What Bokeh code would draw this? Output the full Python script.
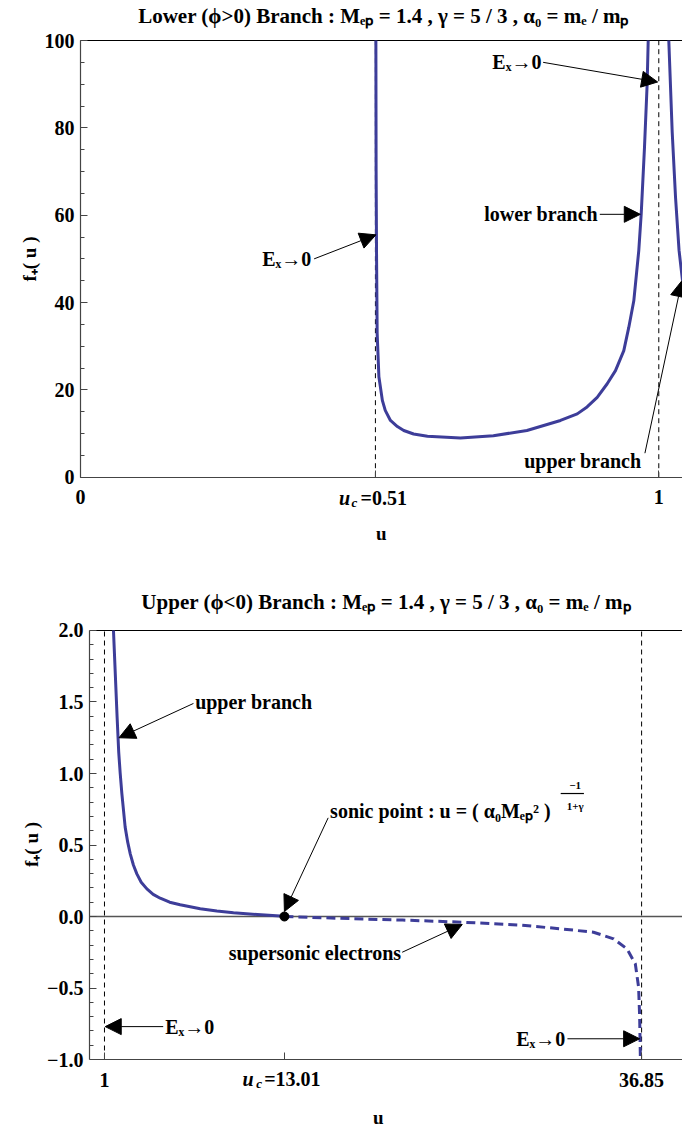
from bokeh.plotting import figure
from bokeh.models import Label, Arrow, NormalHead, FixedTicker
from bokeh.embed import file_html
from bokeh.resources import INLINE

FONT = "Liberation Serif"
CURVE = "#3d3d99"

# ---------------- data: top panel (lower, phi>0 branch) ----------------
top_title = "Lower (ϕ>0) Branch : Mₑₚ = 1.4 , γ = 5 / 3 , α₀ = mₑ / mₚ"
top_uc = 0.51
top_asym = 1.0
top_lower_u = [0.5108, 0.5112, 0.5120, 0.5130, 0.5160, 0.5220, 0.527, 0.536, 0.548, 0.559,
               0.576, 0.600, 0.657, 0.714, 0.772, 0.830, 0.859, 0.876, 0.8935, 0.9108,
               0.9251, 0.9395, 0.9481, 0.9568, 0.9654, 0.9696, 0.9753, 0.9799, 0.9817]
top_lower_f = [100, 70, 50, 33, 23, 17.6, 15.3, 13.0, 11.6, 10.7,
               9.9, 9.4, 9.0, 9.5, 10.7, 13.0, 14.5, 16.1, 18.3, 21.4,
               24.4, 29.0, 34.3, 40.4, 51.9, 60.3, 75.6, 90.1, 100]
top_upper_u = [1.0173, 1.0232, 1.029, 1.035, 1.041]
top_upper_f = [100, 79, 64, 52, 45]
top_xticks = [0, 0.51, 1]
top_yticks = [0, 20, 40, 60, 80, 100]
top_yminor = [5, 10, 15, 25, 30, 35, 45, 50, 55, 65, 70, 75, 85, 90, 95]
top_xlim = (0, 1.041)
top_ylim = (0, 100)

# ---------------- data: bottom panel (upper, phi<0 branch) ----------------
bot_title = "Upper (ϕ<0) Branch : Mₑₚ = 1.4 , γ = 5 / 3 , α₀ = mₑ / mₚ"
bot_uc = 13.01
bot_asym = [1.0, 36.85]
bot_upper_u = [1.60, 1.72, 1.84, 1.95, 2.05, 2.16, 2.38, 2.55, 2.72, 2.93, 3.16, 3.45,
               3.83, 4.25, 4.72, 5.35, 6.05, 7.39, 8.50, 9.61, 11.2, 12.73, 13.01]
bot_upper_f = [2.0, 1.7, 1.4, 1.15, 1.0, 0.86, 0.625, 0.52, 0.438, 0.36, 0.298, 0.24,
               0.193, 0.155, 0.128, 0.10, 0.082, 0.054, 0.038, 0.026, 0.014, 0.004, 0.0]
bot_super_u = [13.01, 17.4, 20.9, 24.86, 28.8, 31.42, 33.64, 34.98, 35.87, 36.43, 36.65, 36.72, 36.77]
bot_super_f = [0.0, -0.015, -0.025, -0.04, -0.06, -0.086, -0.11, -0.156, -0.226, -0.331, -0.494, -0.70, -1.0]
bot_xticks = [1, 13.01, 36.85]
bot_yticks = [-1, -0.5, 0, 0.5, 1, 1.5, 2]
bot_yminor = [-0.9, -0.8, -0.7, -0.6, -0.4, -0.3, -0.2, -0.1, 0.1, 0.2, 0.3, 0.4,
              0.6, 0.7, 0.8, 0.9, 1.1, 1.2, 1.3, 1.4, 1.6, 1.7, 1.8, 1.9]
bot_xlim = (0, 39.58)
bot_ylim = (-1, 2)

# annotations: (text, x, y, align, x_tail, y_tail, x_tip, y_tip)
top_notes = [
    ("Eₓ→0", 0.399, 50.0, "right", 0.404, 50.0, 0.511, 55.5),
    ("Eₓ→0", 0.797, 95.0, "right", 0.800, 95.0, 0.998, 90.5),
    ("lower branch", 0.895, 60.2, "right", 0.898, 60.2, 0.968, 60.2),
    ("upper branch", 0.970, 3.8, "right", 0.976, 5.5, 1.040, 45.0),
]
bot_notes = [
    ("upper branch", 7.05, 1.50, "left", 6.94, 1.49, 1.97, 1.25),
    ("supersonic electrons", 20.8, -0.257, "right", 20.87, -0.25, 24.88, -0.056),
    ("Eₓ→0", 5.05, -0.77, "left", 4.92, -0.77, 1.05, -0.77),
    ("Eₓ→0", 31.76, -0.855, "right", 31.9, -0.855, 36.72, -0.855),
]
sonic_text = "sonic point : u = ( α₀Mₑₚ² )"
sonic_pos = (16.06, 0.74)
sonic_arrow = (15.93, 0.69, 13.01, 0.035)


def make_fig(h, xr, yr, bl, xbounds, ybounds, xloc, yloc):
    p = figure(width=682, height=h, x_range=xr, y_range=yr, output_backend="svg",
               toolbar_location=None, min_border_left=bl, min_border_right=0,
               min_border_top=0, min_border_bottom=0)
    p.grid.visible = False
    p.outline_line_color = None
    p.background_fill_color = "white"
    p.border_fill_color = "white"
    p.xaxis.fixed_location = xloc
    p.xaxis.bounds = xbounds
    if yloc is not None:
        p.yaxis.fixed_location = yloc
    p.yaxis.bounds = ybounds
    for ax in (p.xaxis[0], p.yaxis[0]):
        ax.axis_line_color = "#444444"
        ax.axis_line_width = 1.2
        ax.major_tick_in = 7
        ax.major_tick_out = 0
        ax.minor_tick_in = 4
        ax.minor_tick_out = 0
        ax.major_tick_line_color = "#444444"
        ax.minor_tick_line_color = "#444444"
        ax.major_label_text_font = FONT
        ax.major_label_text_font_style = "bold"
        ax.major_label_text_font_size = "20px"
        ax.major_label_text_color = "black"
        ax.axis_label_text_font = FONT
        ax.axis_label_text_font_style = "bold"
        ax.axis_label_text_font_size = "19px"
        ax.axis_label_text_color = "black"
    p.xaxis.minor_tick_line_color = None
    p.yaxis.axis_label = "f₊( u )"
    p.yaxis.axis_label_standoff = 2
    p.yaxis.major_label_standoff = 6
    p.xaxis.major_label_standoff = 9
    return p


def lbl(p, x, y, text, align="left", size="20px", style="bold"):
    p.add_layout(Label(x=x, y=y, text=text, text_align=align, text_baseline="middle",
                       text_font=FONT, text_font_style=style, text_font_size=size,
                       text_color="black"))


def arrow(p, x0, y0, x1, y1):
    p.add_layout(Arrow(x_start=x0, y_start=y0, x_end=x1, y_end=y1, line_width=1,
                       line_color="black",
                       end=NormalHead(size=16, fill_color="black", line_color="black")))


# ---------------- top figure ----------------
p1 = make_fig(560, (-0.1383, top_xlim[1]), (-19.07, 109.16), 0,
              top_xlim, top_ylim, top_ylim[0], top_xlim[0])
p1.xaxis.ticker = FixedTicker(ticks=top_xticks)
p1.xaxis.major_label_overrides = {0: "0", 0.51: " ", 1: "1"}
p1.yaxis.ticker = FixedTicker(ticks=top_yticks, minor_ticks=top_yminor)
p1.segment(x0=[top_xlim[0]], y0=[top_ylim[1]], x1=[top_xlim[1]], y1=[top_ylim[1]],
           line_color="black", line_width=1.2)
p1.segment(x0=[top_uc, top_asym], y0=[top_ylim[0]] * 2, x1=[top_uc, top_asym],
           y1=[top_ylim[1]] * 2, line_color="black", line_width=1, line_dash="5 4")
p1.line(top_lower_u, top_lower_f, line_color=CURVE, line_width=3, line_join="round")
p1.line(top_upper_u, top_upper_f, line_color=CURVE, line_width=3, line_join="round")
for t, x, y, al, x0, y0, x1, y1 in top_notes:
    lbl(p1, x, y, t, al)
    arrow(p1, x0, y0, x1, y1)
lbl(p1, 0.524, 105.6, top_title, "center", "21px")
lbl(p1, 0.4565, -4.65, "u", "center", "20px", "bold italic")
lbl(p1, 0.4738, -5.8, "c", "center", "13px", "bold italic")
lbl(p1, 0.4842, -4.65, "=0.51", "left", "20px")
lbl(p1, 0.52, -12.9, "u", "center", "19px")

# ---------------- bottom figure ----------------
p2 = make_fig(568, (bot_xlim[0], bot_xlim[1]), (-1.4825, 2.4895), 89,
              bot_xlim, bot_ylim, bot_ylim[0], None)
p2.xaxis.ticker = FixedTicker(ticks=bot_xticks)
p2.xaxis.major_label_overrides = {1: "1", 13.01: " ", 36.85: "36.85"}
p2.yaxis.ticker = FixedTicker(ticks=bot_yticks, minor_ticks=bot_yminor)
p2.yaxis.major_label_overrides = {-1: "−1.0", -0.5: "−0.5", 0: "0.0", 0.5: "0.5",
                                  1: "1.0", 1.5: "1.5", 2: "2.0"}
p2.segment(x0=[bot_xlim[0]], y0=[bot_ylim[1]], x1=[bot_xlim[1]], y1=[bot_ylim[1]],
           line_color="black", line_width=1.2)
p2.segment(x0=[bot_xlim[0]], y0=[0], x1=[bot_xlim[1]], y1=[0],
           line_color="#555555", line_width=1.5)
p2.segment(x0=bot_asym, y0=[bot_ylim[0]] * 2, x1=bot_asym, y1=[bot_ylim[1]] * 2,
           line_color="black", line_width=1, line_dash="5 4")
p2.line(bot_upper_u, bot_upper_f, line_color=CURVE, line_width=3, line_join="round")
p2.line(bot_super_u, bot_super_f, line_color=CURVE, line_width=3, line_dash="9 5")
p2.scatter([bot_uc], [0], size=9, color="black")
for t, x, y, al, x0, y0, x1, y1 in bot_notes:
    lbl(p2, x, y, t, al)
    arrow(p2, x0, y0, x1, y1)
lbl(p2, sonic_pos[0], sonic_pos[1], sonic_text, "left")
arrow(p2, *sonic_arrow)
lbl(p2, 32.42, 0.916, "−1", "center", "11px")
p2.segment(x0=[31.45], y0=[0.86], x1=[33.0], y1=[0.86], line_color="black", line_width=1.2)
lbl(p2, 32.42, 0.77, "1+γ", "center", "11px")
lbl(p2, 19.8, 2.196, bot_title, "center", "21px")
lbl(p2, 10.59, -1.133, "u", "center", "20px", "bold italic")
lbl(p2, 11.33, -1.168, "c", "center", "13px", "bold italic")
lbl(p2, 11.66, -1.133, "=13.01", "left", "20px")
lbl(p2, 19.27, -1.406, "u", "center", "19px")

open("out.html", "w").write(file_html([p1, p2], INLINE))
